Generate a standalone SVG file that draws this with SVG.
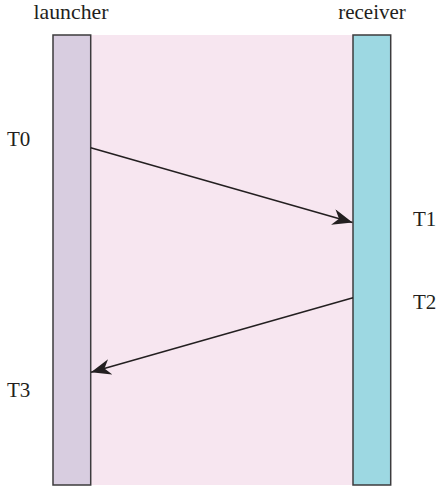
<svg xmlns="http://www.w3.org/2000/svg" width="436" height="490" viewBox="0 0 436 490">
<defs>
<style>
.lbl{font-family:"Liberation Serif","Times New Roman",serif;font-size:21px;fill:#231f20}
.bar{stroke:#3c3b3d;stroke-width:1.5}
.msg{stroke:#231f20;stroke-width:1.5;fill:none}
</style>
<marker id="ah" viewBox="0 0 20 16" refX="20" refY="8" markerWidth="20" markerHeight="16" markerUnits="userSpaceOnUse" orient="auto">
<path d="M0,0 L20,8 L0,16 L6,8 Z" fill="#231f20"/>
</marker>
</defs>
<rect x="90.7" y="35" width="262" height="450" fill="#f7e6f0"/>
<g id="launcher">
<rect class="bar" x="53" y="35" width="37.7" height="450" fill="#d8cde0"/>
<text class="lbl" x="71" y="19" text-anchor="middle" textLength="75" lengthAdjust="spacingAndGlyphs">launcher</text>
</g>
<g id="receiver">
<rect class="bar" x="353" y="35" width="37.7" height="450" fill="#9dd8e2"/>
<text class="lbl" x="372" y="19" text-anchor="middle">receiver</text>
</g>
<g id="labels">
<text class="lbl" x="7" y="146">T0</text>
<text class="lbl" x="413" y="226">T1</text>
<text class="lbl" x="413" y="309">T2</text>
<text class="lbl" x="7" y="397">T3</text>
</g>
<g id="connectors">
<line class="msg" x1="90.7" y1="147.7" x2="352.5" y2="222.5" marker-end="url(#ah)"/>
<line class="msg" x1="353" y1="297.7" x2="91" y2="372.3" marker-end="url(#ah)"/>
</g>
</svg>
